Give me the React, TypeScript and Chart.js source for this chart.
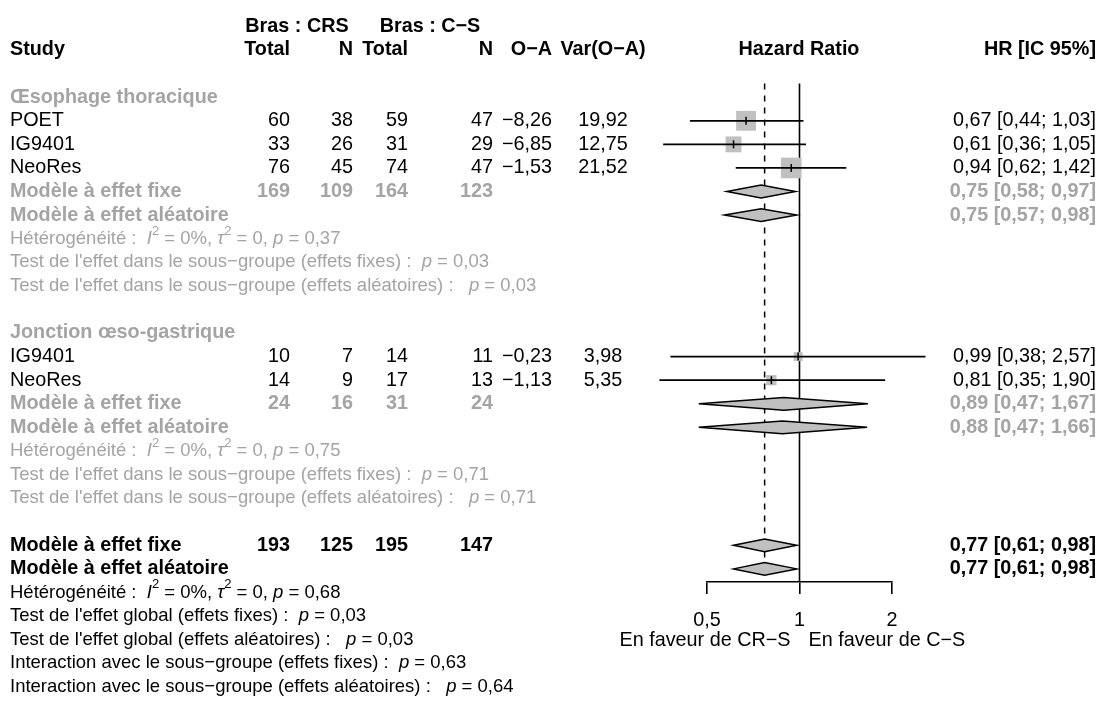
import React, { useEffect, useRef } from "react";
import { Chart, registerables } from "chart.js";

Chart.register(...registerables);

// ---------- DATA ----------
const subgroupNames = ["Œsophage thoracique", "Jonction œso-gastrique"];
const studyLabels = ["POET", "IG9401", "NeoRes", "IG9401", "NeoRes"];
const studyGroup = [0, 0, 0, 1, 1];
const totalCRS = [60, 33, 76, 10, 14];
const eventsCRS = [38, 26, 45, 7, 9];
const totalCS = [59, 31, 74, 14, 17];
const eventsCS = [47, 29, 47, 11, 13];
const oMinusE = [-8.26, -6.85, -1.53, -0.23, -1.13];
const varOE = [19.92, 12.75, 21.52, 3.98, 5.35];
const hrEst = [0.67, 0.61, 0.94, 0.99, 0.81];
const hrLow = [0.44, 0.36, 0.62, 0.38, 0.35];
const hrHigh = [1.03, 1.05, 1.42, 2.57, 1.9];

const sgTotalCRS = [169, 24];
const sgEventsCRS = [109, 16];
const sgTotalCS = [164, 31];
const sgEventsCS = [123, 24];
const sgFixedEst = [0.75, 0.89];
const sgFixedLow = [0.58, 0.47];
const sgFixedHigh = [0.97, 1.67];
const sgRandomEst = [0.75, 0.88];
const sgRandomLow = [0.57, 0.47];
const sgRandomHigh = [0.98, 1.66];
const sgI2 = ["0%", "0%"];
const sgTau2 = ["0", "0"];
const sgHetP = ["0,37", "0,75"];
const sgTestFixedP = ["0,03", "0,71"];
const sgTestRandomP = ["0,03", "0,71"];

const overallTotals = [193, 125, 195, 147];
const overallFixed = [0.77, 0.61, 0.98];
const overallRandom = [0.77, 0.61, 0.98];
const overallI2 = "0%";
const overallTau2 = "0";
const overallHetP = "0,68";
const overallTestFixedP = "0,03";
const overallTestRandomP = "0,03";
const interactionFixedP = "0,63";
const interactionRandomP = "0,64";

const tickValues = [0.5, 1, 2];
const tickLabels = ["0,5", "1", "2"];
const favourLeft = "En faveur de CR−S";
const favourRight = "En faveur de C−S";
const nullValue = 1;

// ---------- LAYOUT / STYLE ----------
const W = 1106;
const H = 702;
const FONT = '"Liberation Sans", Arial, Helvetica, sans-serif';
const MAIN = 19.8;
const SMALL = 18.5;
const GRAY = "#a4a4a4";
const FILL = "#c0c0c0";
const ROW0_Y = 19;
const ROW_H = 23.9;
const PLOT_TOP = 7;
const AXIS_Y = 582;
const X_LEFT = 707;
const X_RIGHT = 892;
const AXIS_H = 60;
const REF_TOP_ROW = 2.42;
const DASH_BOTTOM_ROW = 22.9;

const COL_STUDY_L = 10;
const COL_TOT1_R = 290;
const COL_N1_R = 353;
const COL_TOT2_R = 408;
const COL_N2_R = 493;
const COL_OE_R = 552;
const COL_VAR_C = 603;
const COL_HR_C = 799;
const COL_HR_R = 1096;
const BRAS1_C = 297;
const BRAS2_C = 430;

const yMin = -(ROW0_Y - PLOT_TOP) / ROW_H;
const yMax = yMin + (AXIS_Y - PLOT_TOP) / ROW_H;

const f2 = (v: number) => (v < 0 ? "−" : "") + Math.abs(v).toFixed(2).replace(".", ",");
const ci = (e: number, l: number, h: number) => `${f2(e)} [${f2(l)}; ${f2(h)}]`;

type Seg = { t: string; i?: boolean; sup?: boolean };

// build row structure
let kk = 3;
const studyRow: number[] = [];
const sgRows: { title: number; fixed: number; random: number; het: number; tf: number; tr: number }[] = [];
subgroupNames.forEach((_, g) => {
  const title = kk++;
  studyGroup.forEach((sg, i) => {
    if (sg === g) studyRow[i] = kk++;
  });
  const fixed = kk++;
  const random = kk++;
  const het = kk++;
  const tf = kk++;
  const tr = kk++;
  kk++;
  sgRows.push({ title, fixed, random, het, tf, tr });
});
const ovFixedRow = kk++;
const ovRandomRow = kk++;
const ovHetRow = kk++;
const ovTfRow = kk++;
const ovTrRow = kk++;
const ovIfRow = kk++;
const ovIrRow = kk++;

function hetSegs(prefix: string, i2: string, tau2: string, p: string): Seg[] {
  return [
    { t: prefix },
    { t: "I", i: true },
    { t: "2", sup: true },
    { t: ` = ${i2}, ` },
    { t: "τ", i: true },
    { t: "2", sup: true },
    { t: ` = ${tau2}, ` },
    { t: "p", i: true },
    { t: ` = ${p}` },
  ];
}
function pSegs(prefix: string, p: string): Seg[] {
  return [{ t: prefix }, { t: "p", i: true }, { t: ` = ${p}` }];
}

function font(size: number, bold = false, italic = false) {
  return `${italic ? "italic " : ""}${bold ? "bold " : ""}${size}px ${FONT}`;
}

function drawRich(ctx: CanvasRenderingContext2D, segs: Seg[], x: number, y: number, size: number, color: string) {
  let cx = x;
  ctx.fillStyle = color;
  ctx.textAlign = "left";
  ctx.textBaseline = "middle";
  for (const s of segs) {
    const fs = s.sup ? Math.round(size * 0.7) : size;
    ctx.font = font(fs, false, !!s.i);
    const dy = s.sup ? -size * 0.42 : 0;
    ctx.fillText(s.t, cx, y + dy);
    cx += ctx.measureText(s.t).width;
  }
}

function txt(ctx: CanvasRenderingContext2D, s: string, x: number, y: number, align: CanvasTextAlign, size: number, bold: boolean, color: string) {
  ctx.font = font(size, bold);
  ctx.fillStyle = color;
  ctx.textAlign = align;
  ctx.textBaseline = "middle";
  ctx.fillText(s, x, y);
}

const textPlugin = {
  id: "forestText",
  afterDraw(chart: any) {
    const ctx: CanvasRenderingContext2D = chart.ctx;
    const Y = (k: number) => chart.scales.y.getPixelForValue(k);
    ctx.save();
    // headers
    txt(ctx, "Bras : CRS", BRAS1_C, Y(0), "center", MAIN, true, "#000");
    txt(ctx, "Bras : C−S", BRAS2_C, Y(0), "center", MAIN, true, "#000");
    const h = Y(1);
    txt(ctx, "Study", COL_STUDY_L, h, "left", MAIN, true, "#000");
    txt(ctx, "Total", COL_TOT1_R, h, "right", MAIN, true, "#000");
    txt(ctx, "N", COL_N1_R, h, "right", MAIN, true, "#000");
    txt(ctx, "Total", COL_TOT2_R, h, "right", MAIN, true, "#000");
    txt(ctx, "N", COL_N2_R, h, "right", MAIN, true, "#000");
    txt(ctx, "O−A", COL_OE_R, h, "right", MAIN, true, "#000");
    txt(ctx, "Var(O−A)", COL_VAR_C, h, "center", MAIN, true, "#000");
    txt(ctx, "Hazard Ratio", COL_HR_C, h, "center", MAIN, true, "#000");
    txt(ctx, "HR [IC 95%]", COL_HR_R, h, "right", MAIN, true, "#000");

    // studies
    studyLabels.forEach((lab, i) => {
      const y = Y(studyRow[i]);
      txt(ctx, lab, COL_STUDY_L, y, "left", MAIN, false, "#000");
      txt(ctx, String(totalCRS[i]), COL_TOT1_R, y, "right", MAIN, false, "#000");
      txt(ctx, String(eventsCRS[i]), COL_N1_R, y, "right", MAIN, false, "#000");
      txt(ctx, String(totalCS[i]), COL_TOT2_R, y, "right", MAIN, false, "#000");
      txt(ctx, String(eventsCS[i]), COL_N2_R, y, "right", MAIN, false, "#000");
      txt(ctx, f2(oMinusE[i]), COL_OE_R, y, "right", MAIN, false, "#000");
      txt(ctx, f2(varOE[i]), COL_VAR_C, y, "center", MAIN, false, "#000");
      txt(ctx, ci(hrEst[i], hrLow[i], hrHigh[i]), COL_HR_R, y, "right", MAIN, false, "#000");
    });

    // subgroups
    sgRows.forEach((r, g) => {
      txt(ctx, subgroupNames[g], COL_STUDY_L, Y(r.title), "left", MAIN, true, GRAY);
      const yf = Y(r.fixed);
      txt(ctx, "Modèle à effet fixe", COL_STUDY_L, yf, "left", MAIN, true, GRAY);
      txt(ctx, String(sgTotalCRS[g]), COL_TOT1_R, yf, "right", MAIN, true, GRAY);
      txt(ctx, String(sgEventsCRS[g]), COL_N1_R, yf, "right", MAIN, true, GRAY);
      txt(ctx, String(sgTotalCS[g]), COL_TOT2_R, yf, "right", MAIN, true, GRAY);
      txt(ctx, String(sgEventsCS[g]), COL_N2_R, yf, "right", MAIN, true, GRAY);
      txt(ctx, ci(sgFixedEst[g], sgFixedLow[g], sgFixedHigh[g]), COL_HR_R, yf, "right", MAIN, true, GRAY);
      const yr = Y(r.random);
      txt(ctx, "Modèle à effet aléatoire", COL_STUDY_L, yr, "left", MAIN, true, GRAY);
      txt(ctx, ci(sgRandomEst[g], sgRandomLow[g], sgRandomHigh[g]), COL_HR_R, yr, "right", MAIN, true, GRAY);
      drawRich(ctx, hetSegs("Hétérogénéité :  ", sgI2[g], sgTau2[g], sgHetP[g]), COL_STUDY_L, Y(r.het), SMALL, GRAY);
      drawRich(ctx, pSegs("Test de l'effet dans le sous−groupe (effets fixes) :  ", sgTestFixedP[g]), COL_STUDY_L, Y(r.tf), SMALL, GRAY);
      drawRich(ctx, pSegs("Test de l'effet dans le sous−groupe (effets aléatoires) :   ", sgTestRandomP[g]), COL_STUDY_L, Y(r.tr), SMALL, GRAY);
    });

    // overall
    const of = Y(ovFixedRow);
    txt(ctx, "Modèle à effet fixe", COL_STUDY_L, of, "left", MAIN, true, "#000");
    txt(ctx, String(overallTotals[0]), COL_TOT1_R, of, "right", MAIN, true, "#000");
    txt(ctx, String(overallTotals[1]), COL_N1_R, of, "right", MAIN, true, "#000");
    txt(ctx, String(overallTotals[2]), COL_TOT2_R, of, "right", MAIN, true, "#000");
    txt(ctx, String(overallTotals[3]), COL_N2_R, of, "right", MAIN, true, "#000");
    txt(ctx, ci(overallFixed[0], overallFixed[1], overallFixed[2]), COL_HR_R, of, "right", MAIN, true, "#000");
    const orr = Y(ovRandomRow);
    txt(ctx, "Modèle à effet aléatoire", COL_STUDY_L, orr, "left", MAIN, true, "#000");
    txt(ctx, ci(overallRandom[0], overallRandom[1], overallRandom[2]), COL_HR_R, orr, "right", MAIN, true, "#000");
    drawRich(ctx, hetSegs("Hétérogénéité :  ", overallI2, overallTau2, overallHetP), COL_STUDY_L, Y(ovHetRow), SMALL, "#000");
    drawRich(ctx, pSegs("Test de l'effet global (effets fixes) :  ", overallTestFixedP), COL_STUDY_L, Y(ovTfRow), SMALL, "#000");
    drawRich(ctx, pSegs("Test de l'effet global (effets aléatoires) :   ", overallTestRandomP), COL_STUDY_L, Y(ovTrRow), SMALL, "#000");
    drawRich(ctx, pSegs("Interaction avec le sous−groupe (effets fixes) :  ", interactionFixedP), COL_STUDY_L, Y(ovIfRow), SMALL, "#000");
    drawRich(ctx, pSegs("Interaction avec le sous−groupe (effets aléatoires) :   ", interactionRandomP), COL_STUDY_L, Y(ovIrRow), SMALL, "#000");

    // favour labels
    const xs = chart.scales.x;
    const yl = Y(ovTfRow + 1) + 1;
    txt(ctx, favourLeft, xs.getPixelForValue(nullValue) - 9, yl, "right", MAIN, false, "#000");
    txt(ctx, favourRight, xs.getPixelForValue(nullValue) + 9, yl, "left", MAIN, false, "#000");
    ctx.restore();
  },
};

const diamondPlugin = {
  id: "forestDiamonds",
  afterDatasetsDraw(chart: any) {
    const ctx: CanvasRenderingContext2D = chart.ctx;
    const xs = chart.scales.x;
    const ys = chart.scales.y;
    const dh = 6.4;
    const items: { k: number; e: number; l: number; h: number }[] = [];
    sgRows.forEach((r, g) => {
      items.push({ k: r.fixed, e: sgFixedEst[g], l: sgFixedLow[g], h: sgFixedHigh[g] });
      items.push({ k: r.random, e: sgRandomEst[g], l: sgRandomLow[g], h: sgRandomHigh[g] });
    });
    items.push({ k: ovFixedRow, e: overallFixed[0], l: overallFixed[1], h: overallFixed[2] });
    items.push({ k: ovRandomRow, e: overallRandom[0], l: overallRandom[1], h: overallRandom[2] });
    ctx.save();
    for (const it of items) {
      const y = ys.getPixelForValue(it.k);
      const xl = xs.getPixelForValue(it.l);
      const xe = xs.getPixelForValue(it.e);
      const xh = xs.getPixelForValue(it.h);
      ctx.beginPath();
      ctx.moveTo(xl, y);
      ctx.lineTo(xe, y - dh);
      ctx.lineTo(xh, y);
      ctx.lineTo(xe, y + dh);
      ctx.closePath();
      ctx.fillStyle = FILL;
      ctx.fill();
      ctx.lineWidth = 1.5;
      ctx.strokeStyle = "#000";
      ctx.stroke();
    }
    ctx.restore();
  },
};

export default function App() {
  const ref = useRef<HTMLCanvasElement | null>(null);
  useEffect(() => {
    if (!ref.current) return;
    const datasets: any[] = [];
    // reference lines
    datasets.push({
      type: "line",
      data: [
        { x: nullValue, y: REF_TOP_ROW },
        { x: nullValue, y: yMax },
      ],
      borderColor: "#000",
      borderWidth: 1.6,
      pointRadius: 0,
      clip: false,
      order: 6,
    });
    datasets.push({
      type: "line",
      data: [
        { x: overallFixed[0], y: REF_TOP_ROW },
        { x: overallFixed[0], y: DASH_BOTTOM_ROW },
      ],
      borderColor: "#000",
      borderWidth: 1.5,
      borderDash: [6, 6],
      pointRadius: 0,
      clip: false,
      order: 6,
    });
    // squares
    datasets.push({
      type: "scatter",
      data: hrEst.map((v, i) => ({ x: v, y: studyRow[i] })),
      pointStyle: "rect",
      pointRadius: varOE.map((v) => (4.45 * Math.sqrt(v)) / Math.SQRT2),
      backgroundColor: FILL,
      borderWidth: 0,
      clip: false,
      order: 5,
    });
    // CI lines
    hrEst.forEach((_, i) => {
      datasets.push({
        type: "line",
        data: [
          { x: hrLow[i], y: studyRow[i] },
          { x: hrHigh[i], y: studyRow[i] },
        ],
        borderColor: "#000",
        borderWidth: 1.7,
        pointRadius: 0,
        clip: false,
        order: 4,
      });
    });
    // estimate ticks
    datasets.push({
      type: "scatter",
      data: hrEst.map((v, i) => ({ x: v, y: studyRow[i] })),
      pointStyle: "line",
      rotation: 90,
      pointRadius: 4,
      borderColor: "#000",
      borderWidth: 1.5,
      clip: false,
      order: 3,
    });

    const chart = new Chart(ref.current, {
      type: "scatter",
      data: { datasets },
      options: {
        animation: false,
        responsive: true,
        maintainAspectRatio: false,
        devicePixelRatio: 1,
        layout: {
          padding: { left: X_LEFT, right: W - X_RIGHT, top: PLOT_TOP, bottom: H - AXIS_Y - AXIS_H },
        },
        plugins: { legend: { display: false }, tooltip: { enabled: false } },
        scales: {
          x: {
            type: "logarithmic",
            position: "bottom",
            min: tickValues[0],
            max: tickValues[tickValues.length - 1],
            bounds: "data",
            afterBuildTicks: (scale: any) => {
              scale.ticks = tickValues.map((v) => ({ value: v }));
            },
            afterFit: (scale: any) => {
              scale.height = AXIS_H;
            },
            border: { display: true, color: "#000", width: 1.6 },
            grid: {
              display: true,
              drawOnChartArea: false,
              drawTicks: true,
              tickLength: 12,
              color: "#000",
              lineWidth: 1.6,
            },
            ticks: {
              autoSkip: false,
              maxRotation: 0,
              padding: 15,
              color: "#000",
              font: { family: FONT, size: MAIN },
              callback: (v: any) => {
                const i = tickValues.indexOf(Number(v));
                return i >= 0 ? tickLabels[i] : "";
              },
            },
          },
          y: {
            type: "linear",
            display: false,
            reverse: true,
            min: yMin,
            max: yMax,
          },
        },
      } as any,
      plugins: [diamondPlugin, textPlugin],
    });
    return () => chart.destroy();
  }, []);

  return (
    <div style={{ position: "absolute", left: 0, top: 0, width: W, height: H, background: "#fff" }}>
      <canvas ref={ref} />
    </div>
  );
}
